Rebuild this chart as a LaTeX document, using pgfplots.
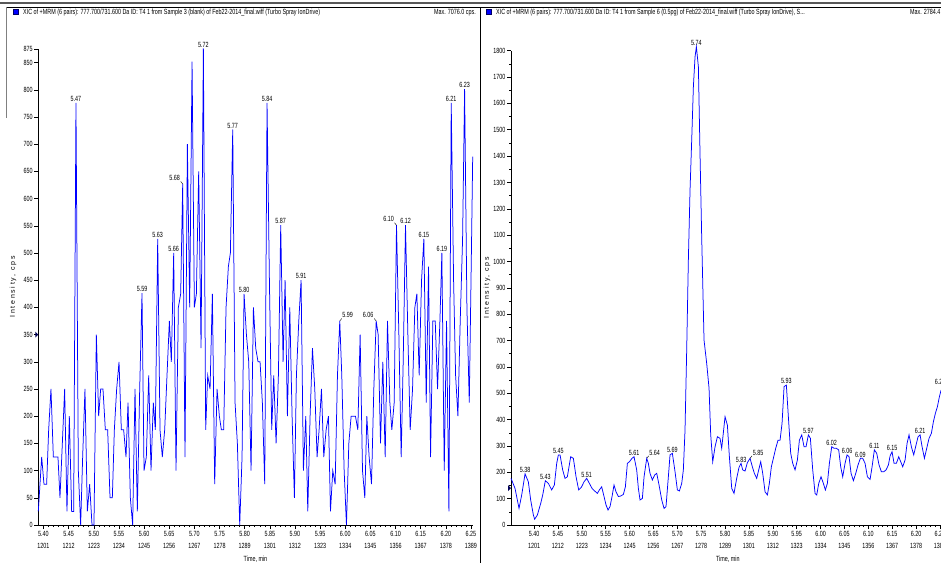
\documentclass[border=0pt]{standalone}
\usepackage{fontspec}
\setmainfont{Liberation Sans}[FakeStretch=0.72]
\newfontfamily\lblfont{Liberation Sans}[LetterSpace=25]
\usepackage{graphicx}
\usepackage{pgfplots}
\pgfplotsset{compat=1.18}
\usepackage{pgfplotstable}
\definecolor{trace}{RGB}{0,0,255}

\pgfplotstableread{
t v
5.3897 25
5.3964 125
5.4010 75
5.4063 75
5.4103 175
5.4149 250
5.4196 125
5.4288 125
5.4328 50
5.4375 150
5.4421 250
5.4467 25
5.4514 200
5.4560 25
5.4600 25
5.4646 776
5.4693 100
5.4739 0
5.4779 125
5.4825 250
5.4872 25
5.4918 75
5.4965 0
5.5004 0
5.5051 350
5.5097 200
5.5137 250
5.5183 250
5.5230 175
5.5276 175
5.5323 50
5.5369 50
5.5409 175
5.5455 250
5.5502 300
5.5548 175
5.5594 175
5.5641 125
5.5681 225
5.5727 50
5.5773 0
5.5820 250
5.5866 25
5.5913 250
5.5959 426
5.5999 100
5.6045 125
5.6092 275
5.6138 100
5.6184 225
5.6224 175
5.6271 526
5.6317 175
5.6363 125
5.6410 175
5.6456 275
5.6503 375
5.6542 300
5.6589 500
5.6635 100
5.6682 400
5.6728 425
5.6768 627
5.6814 125
5.6861 700
5.6907 400
5.6954 852
5.7000 400
5.7040 425
5.7086 650
5.7133 325
5.7179 876
5.7225 175
5.7265 275
5.7312 250
5.7358 425
5.7404 75
5.7451 250
5.7497 200
5.7537 175
5.7583 175
5.7630 400
5.7676 475
5.7716 500
5.7763 727
5.7809 225
5.7855 150
5.7902 0
5.7948 125
5.7988 425
5.8035 350
5.8081 300
5.8127 100
5.8174 400
5.8220 325
5.8266 300
5.8306 300
5.8352 225
5.8399 75
5.8445 776
5.8492 450
5.8538 175
5.8578 275
5.8625 150
5.8671 275
5.8717 551
5.8764 300
5.8804 450
5.8850 200
5.8897 400
5.8943 200
5.8989 50
5.9029 275
5.9076 375
5.9122 450
5.9168 100
5.9215 200
5.9255 25
5.9301 200
5.9348 325
5.9394 250
5.9440 125
5.9480 175
5.9527 250
5.9573 125
5.9620 175
5.9666 200
5.9706 25
5.9752 100
5.9799 75
5.9845 275
5.9891 375
5.9931 275
5.9978 100
6.0024 0
6.0071 150
6.0117 200
6.0163 200
6.0203 200
6.0250 175
6.0296 350
6.0343 100
6.0389 50
6.0429 200
6.0475 125
6.0522 75
6.0568 250
6.0615 375
6.0654 350
6.0701 150
6.0747 300
6.0794 125
6.0840 375
6.0887 225
6.0926 175
6.0973 225
6.1019 551
6.1066 350
6.1112 125
6.1152 300
6.1198 551
6.1245 350
6.1291 175
6.1338 250
6.1384 400
6.1424 425
6.1470 275
6.1517 450
6.1563 526
6.1610 225
6.1656 475
6.1696 125
6.1742 375
6.1789 375
6.1835 250
6.1882 375
6.1921 500
6.1968 100
6.2014 375
6.2061 25
6.2107 776
6.2154 450
6.2194 275
6.2240 200
6.2286 375
6.2333 526
6.2373 801
6.2419 400
6.2466 225
6.2512 526
6.2534 677
}\leftdata

\pgfplotstableread{
t v
5.3518 177
5.3602 139
5.3686 63
5.3742 114
5.3812 194
5.3881 164
5.3930 95
5.3986 38
5.4014 22
5.4070 38
5.4140 82
5.4182 114
5.4237 168
5.4300 158
5.4370 133
5.4426 152
5.4475 234
5.4510 266
5.4545 266
5.4600 209
5.4649 177
5.4698 183
5.4768 259
5.4824 253
5.4880 183
5.4935 133
5.4991 143
5.5047 164
5.5103 177
5.5159 158
5.5215 139
5.5271 129
5.5326 120
5.5368 133
5.5417 145
5.5466 108
5.5508 76
5.5550 57
5.5592 70
5.5634 108
5.5675 152
5.5717 126
5.5766 108
5.5815 110
5.5871 116
5.5913 145
5.5955 234
5.5997 240
5.6052 253
5.6094 259
5.6150 209
5.6185 139
5.6220 95
5.6269 101
5.6304 183
5.6360 253
5.6394 234
5.6429 196
5.6478 171
5.6527 190
5.6569 196
5.6618 152
5.6674 95
5.6723 63
5.6764 70
5.6813 183
5.6848 266
5.6897 272
5.6953 202
5.7002 133
5.7044 129
5.7093 158
5.7127 209
5.7162 360
5.7197 664
5.7232 1006
5.7267 1271
5.7302 1461
5.7337 1663
5.7372 1777
5.7400 1815
5.7442 1739
5.7476 1410
5.7511 1094
5.7560 702
5.7616 613
5.7665 519
5.7700 342
5.7742 240
5.7791 297
5.7840 335
5.7895 329
5.7930 291
5.8000 411
5.8049 379
5.8091 259
5.8140 139
5.8188 120
5.8244 177
5.8293 219
5.8335 234
5.8370 209
5.8419 205
5.8468 237
5.8524 253
5.8572 221
5.8614 196
5.8663 177
5.8705 209
5.8747 240
5.8789 196
5.8838 126
5.8887 114
5.8928 158
5.8970 221
5.9012 253
5.9061 291
5.9110 322
5.9152 322
5.9194 386
5.9236 525
5.9284 531
5.9326 411
5.9375 272
5.9417 234
5.9466 209
5.9515 247
5.9557 322
5.9606 342
5.9654 297
5.9696 297
5.9745 342
5.9787 329
5.9836 209
5.9885 120
5.9920 114
5.9962 158
6.0010 183
6.0059 158
6.0101 133
6.0143 158
6.0185 234
6.0234 297
6.0283 291
6.0332 291
6.0380 285
6.0422 221
6.0464 183
6.0513 234
6.0555 266
6.0597 259
6.0639 196
6.0688 168
6.0737 196
6.0785 228
6.0834 253
6.0883 253
6.0932 234
6.0981 183
6.1037 173
6.1079 221
6.1127 285
6.1176 272
6.1225 228
6.1274 202
6.1323 202
6.1372 209
6.1421 228
6.1456 262
6.1497 278
6.1539 234
6.1588 234
6.1637 259
6.1679 240
6.1721 221
6.1770 247
6.1812 310
6.1853 342
6.1902 297
6.1951 266
6.2000 304
6.2042 335
6.2084 342
6.2126 297
6.2175 253
6.2223 291
6.2272 329
6.2321 348
6.2363 392
6.2405 424
6.2447 449
6.2489 487
6.2524 512
}\rightdata

\newcommand{\sz}{\fontsize{7.5}{12}\selectfont}
\newcommand{\pk}[3]{\node[anchor=south, inner sep=1pt, font=\sz] at (axis cs:#1,#2) {#3};}
\newcommand{\pkl}[3]{\draw[black, line width=0.4pt] (axis cs:#1,#2) -- ++(-2pt,2.5pt) node[anchor=south east, inner sep=0.5pt, font=\sz] {#3};}
\newcommand{\pkr}[3]{\draw[black, line width=0.4pt] (axis cs:#1,#2) -- ++(2pt,2.5pt) node[anchor=south west, inner sep=0.5pt, font=\sz] {#3};}

\pgfplotsset{
  chrom/.style={
    scale only axis, clip=false, enlargelimits=false,
    axis x line=bottom, axis y line=left,
    axis line style={-, black, line width=0.6pt},
    tick style={black, line width=0.5pt},
    major tick length=4pt, minor tick length=2pt,
    tick align=outside,
    minor x tick num=4,
    /pgf/number format/assume math mode=true,
    /pgf/number format/1000 sep={},
    ticklabel style={font=\sz},
    xticklabel style={align=center, inner sep=2pt},
    yticklabel style={inner sep=1.5pt},
    xtick={5.40,5.45,5.50,5.55,5.60,5.65,5.70,5.75,5.80,5.85,5.90,5.95,6.00,6.05,6.10,6.15,6.20,6.25},
    xticklabels={{5.40\\1201},{5.45\\1212},{5.50\\1223},{5.55\\1234},{5.60\\1245},{5.65\\1256},{5.70\\1267},{5.75\\1278},{5.80\\1289},{5.85\\1301},{5.90\\1312},{5.95\\1323},{6.00\\1334},{6.05\\1345},{6.10\\1356},{6.15\\1367},{6.20\\1378},{6.25\\1389}},
    xlabel={Time, min},
    xlabel style={font=\sz, at={(axis description cs:0.5,0)}, anchor=north, yshift=-31pt, inner sep=0pt},
    ylabel={\lblfont\fontsize{7}{8}\selectfont Intensity, cps},
  }
}

\begin{document}
\begin{tikzpicture}[font=\sz]
\useasboundingbox (0,0) rectangle (941pt,563pt);
\clip (0,0) rectangle (941pt,563pt);
\fill[white] (0,0) rectangle (941pt,563pt);
% frames
\draw[gray!70!black, line width=1.3pt] (0,560pt) -- (941pt,560pt);
\draw[black, line width=0.7pt] (6.5pt,555.5pt) -- (941pt,555.5pt);
\draw[gray, line width=0.9pt] (6.5pt,555.8pt) -- (6.5pt,445pt);
\draw[black, line width=0.8pt] (480.5pt,555.8pt) -- (480.5pt,0pt);
% headers
\filldraw[fill=trace, draw=blue!40!black, line width=0.4pt] (13pt,548.5pt) rectangle (18pt,553.5pt);
\node[anchor=west, inner sep=0pt] at (23pt,550pt) {XIC of +MRM (6 pairs): 777.700/731.600 Da ID: T4 1 from Sample 3 (blank) of Feb22-2014\_final.wiff (Turbo Spray IonDrive)};
\node[anchor=east, inner sep=0pt] at (476pt,550pt) {Max. 7076.0 cps.};
\filldraw[fill=trace, draw=blue!40!black, line width=0.4pt] (486pt,548.5pt) rectangle (491pt,553.5pt);
\node[anchor=west, inner sep=0pt] at (496pt,550pt) {XIC of +MRM (6 pairs): 777.700/731.600 Da ID: T4 1 from Sample 6 (0.5pg) of Feb22-2014\_final.wiff (Turbo Spray IonDrive), S...};
\node[anchor=west, inner sep=0pt] at (910pt,550pt) {Max. 2784.4 cps.};

% left panel
\begin{axis}[chrom, at={(38.3pt,38pt)}, anchor=south west,
  width=434.4pt, height=476pt,
  xmin=5.3897, xmax=6.2534, ymin=0, ymax=875,
  ytick={0,50,100,150,200,250,300,350,400,450,500,550,600,650,700,750,800,850,875},
  minor y tick num=4,
  ylabel style={at={(axis description cs:-0.058,0.5)}, anchor=center}]
\addplot[trace, line width=0.75pt] table[x=t, y=v] {\leftdata};
\fill[blue!35!black] (axis cs:5.3897,350) ++(0pt,0pt) -- ++(-3pt,3pt) -- ++(0pt,-6pt) -- cycle;
\pk{5.4646}{776}{5.47}
\pk{5.5959}{426}{5.59}
\pk{5.6271}{526}{5.63}
\pk{5.6589}{500}{5.66}
\pkl{5.6768}{627}{5.68}
\pk{5.7179}{876}{5.72}
\pk{5.7763}{727}{5.77}
\pk{5.7988}{425}{5.80}
\pk{5.8445}{776}{5.84}
\pk{5.8717}{551}{5.87}
\pk{5.9122}{450}{5.91}
\pkr{5.9891}{375}{5.99}
\pkl{6.0615}{375}{6.06}
\pkl{6.1019}{551}{6.10}
\pk{6.1198}{551}{6.12}
\pk{6.1563}{526}{6.15}
\pk{6.1921}{500}{6.19}
\pk{6.2107}{776}{6.21}
\pk{6.2373}{801}{6.23}
\end{axis}

% right panel
\begin{axis}[chrom, at={(511pt,38pt)}, anchor=south west,
  width=433.7pt, height=474.3pt,
  xmin=5.3518, xmax=6.26, ymin=0, ymax=1800,
  ytick={0,100,...,1800},
  minor y tick num=1,
  ylabel style={at={(axis description cs:-0.055,0.5)}, anchor=center}]
\addplot[trace, line width=0.75pt] table[x=t, y=v] {\rightdata};
\fill[blue!35!black] (axis cs:5.3518,140) -- ++(-3pt,3pt) -- ++(0pt,-6pt) -- cycle;
\pk{5.3812}{194}{5.38}
\pk{5.4237}{168}{5.43}
\pk{5.4510}{266}{5.45}
\pk{5.5103}{177}{5.51}
\pk{5.6094}{259}{5.61}
\pkr{5.6360}{253}{5.64}
\pk{5.6897}{272}{5.69}
\pk{5.7400}{1815}{5.74}
\pk{5.8335}{234}{5.83}
\pkr{5.8524}{253}{5.85}
\pk{5.9284}{531}{5.93}
\pk{5.9745}{342}{5.97}
\pk{6.0234}{297}{6.02}
\pk{6.0555}{266}{6.06}
\pk{6.0834}{253}{6.09}
\pk{6.1127}{285}{6.11}
\pk{6.1497}{278}{6.15}
\pk{6.2084}{342}{6.21}
\pk{6.2503}{530}{6.25}
\end{axis}
\end{tikzpicture}
\end{document}
